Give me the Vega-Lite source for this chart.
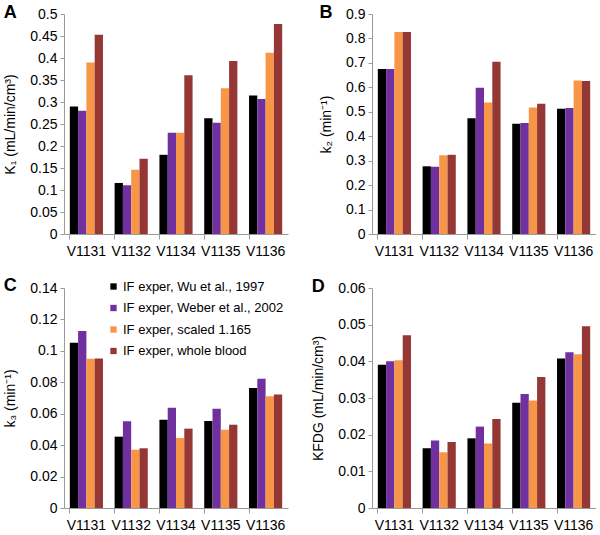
{
  "$schema": "https://vega.github.io/schema/vega-lite/v6.json",
  "padding": {"left": 3, "top": 4, "right": 0, "bottom": 0},
  "config": {
    "view": {"stroke": null},
    "font": "Liberation Sans",
    "axis": {"grid": false, "domainColor": "#9a9a9a", "tickColor": "#9a9a9a", "labelFontSize": 14, "labelColor": "#000000", "titleFontSize": 14, "titleFontWeight": "normal", "titleColor": "#000000", "labelFont": "Liberation Sans", "titleFont": "Liberation Sans"},
    "axisX": {"labelAngle": 0, "bandPosition": 0, "tickSize": 5, "labelPadding": 5, "title": null},
    "axisY": {"tickSize": 4, "labelPadding": 3, "format": ".2~f", "titlePadding": 12},
    "title": {"fontSize": 18, "fontWeight": "bold", "anchor": "start", "frame": "bounds", "offset": -15, "color": "#000000", "font": "Liberation Sans"},
    "legend": {"title": null, "symbolType": "square", "symbolSize": 40, "labelFontSize": 13, "labelFont": "Liberation Sans", "labelColor": "#000000", "rowPadding": 7.5, "labelOffset": 3, "padding": 0, "symbolStrokeWidth": 0, "labelLimit": 400}
  },
  "datasets": {
    "d": [
      {"p": "A", "s": "V1131", "m": "IF exper, Wu et al., 1997", "v": 0.29},
      {"p": "A", "s": "V1131", "m": "IF exper, Weber et al., 2002", "v": 0.28},
      {"p": "A", "s": "V1131", "m": "IF exper, scaled 1.165", "v": 0.39},
      {"p": "A", "s": "V1131", "m": "IF exper, whole blood", "v": 0.453},
      {"p": "A", "s": "V1132", "m": "IF exper, Wu et al., 1997", "v": 0.116},
      {"p": "A", "s": "V1132", "m": "IF exper, Weber et al., 2002", "v": 0.111},
      {"p": "A", "s": "V1132", "m": "IF exper, scaled 1.165", "v": 0.146},
      {"p": "A", "s": "V1132", "m": "IF exper, whole blood", "v": 0.171},
      {"p": "A", "s": "V1134", "m": "IF exper, Wu et al., 1997", "v": 0.18},
      {"p": "A", "s": "V1134", "m": "IF exper, Weber et al., 2002", "v": 0.23},
      {"p": "A", "s": "V1134", "m": "IF exper, scaled 1.165", "v": 0.23},
      {"p": "A", "s": "V1134", "m": "IF exper, whole blood", "v": 0.361},
      {"p": "A", "s": "V1135", "m": "IF exper, Wu et al., 1997", "v": 0.263},
      {"p": "A", "s": "V1135", "m": "IF exper, Weber et al., 2002", "v": 0.253},
      {"p": "A", "s": "V1135", "m": "IF exper, scaled 1.165", "v": 0.331},
      {"p": "A", "s": "V1135", "m": "IF exper, whole blood", "v": 0.393},
      {"p": "A", "s": "V1136", "m": "IF exper, Wu et al., 1997", "v": 0.315},
      {"p": "A", "s": "V1136", "m": "IF exper, Weber et al., 2002", "v": 0.307},
      {"p": "A", "s": "V1136", "m": "IF exper, scaled 1.165", "v": 0.412},
      {"p": "A", "s": "V1136", "m": "IF exper, whole blood", "v": 0.477},
      {"p": "B", "s": "V1131", "m": "IF exper, Wu et al., 1997", "v": 0.675},
      {"p": "B", "s": "V1131", "m": "IF exper, Weber et al., 2002", "v": 0.675},
      {"p": "B", "s": "V1131", "m": "IF exper, scaled 1.165", "v": 0.826},
      {"p": "B", "s": "V1131", "m": "IF exper, whole blood", "v": 0.826},
      {"p": "B", "s": "V1132", "m": "IF exper, Wu et al., 1997", "v": 0.277},
      {"p": "B", "s": "V1132", "m": "IF exper, Weber et al., 2002", "v": 0.275},
      {"p": "B", "s": "V1132", "m": "IF exper, scaled 1.165", "v": 0.322},
      {"p": "B", "s": "V1132", "m": "IF exper, whole blood", "v": 0.324},
      {"p": "B", "s": "V1134", "m": "IF exper, Wu et al., 1997", "v": 0.474},
      {"p": "B", "s": "V1134", "m": "IF exper, Weber et al., 2002", "v": 0.598},
      {"p": "B", "s": "V1134", "m": "IF exper, scaled 1.165", "v": 0.538},
      {"p": "B", "s": "V1134", "m": "IF exper, whole blood", "v": 0.705},
      {"p": "B", "s": "V1135", "m": "IF exper, Wu et al., 1997", "v": 0.451},
      {"p": "B", "s": "V1135", "m": "IF exper, Weber et al., 2002", "v": 0.454},
      {"p": "B", "s": "V1135", "m": "IF exper, scaled 1.165", "v": 0.518},
      {"p": "B", "s": "V1135", "m": "IF exper, whole blood", "v": 0.533},
      {"p": "B", "s": "V1136", "m": "IF exper, Wu et al., 1997", "v": 0.512},
      {"p": "B", "s": "V1136", "m": "IF exper, Weber et al., 2002", "v": 0.515},
      {"p": "B", "s": "V1136", "m": "IF exper, scaled 1.165", "v": 0.628},
      {"p": "B", "s": "V1136", "m": "IF exper, whole blood", "v": 0.626},
      {"p": "C", "s": "V1131", "m": "IF exper, Wu et al., 1997", "v": 0.1052},
      {"p": "C", "s": "V1131", "m": "IF exper, Weber et al., 2002", "v": 0.1126},
      {"p": "C", "s": "V1131", "m": "IF exper, scaled 1.165", "v": 0.095},
      {"p": "C", "s": "V1131", "m": "IF exper, whole blood", "v": 0.0952},
      {"p": "C", "s": "V1132", "m": "IF exper, Wu et al., 1997", "v": 0.0454},
      {"p": "C", "s": "V1132", "m": "IF exper, Weber et al., 2002", "v": 0.0552},
      {"p": "C", "s": "V1132", "m": "IF exper, scaled 1.165", "v": 0.0371},
      {"p": "C", "s": "V1132", "m": "IF exper, whole blood", "v": 0.038},
      {"p": "C", "s": "V1134", "m": "IF exper, Wu et al., 1997", "v": 0.0562},
      {"p": "C", "s": "V1134", "m": "IF exper, Weber et al., 2002", "v": 0.0638},
      {"p": "C", "s": "V1134", "m": "IF exper, scaled 1.165", "v": 0.0445},
      {"p": "C", "s": "V1134", "m": "IF exper, whole blood", "v": 0.0505},
      {"p": "C", "s": "V1135", "m": "IF exper, Wu et al., 1997", "v": 0.0554},
      {"p": "C", "s": "V1135", "m": "IF exper, Weber et al., 2002", "v": 0.0632},
      {"p": "C", "s": "V1135", "m": "IF exper, scaled 1.165", "v": 0.0498},
      {"p": "C", "s": "V1135", "m": "IF exper, whole blood", "v": 0.053},
      {"p": "C", "s": "V1136", "m": "IF exper, Wu et al., 1997", "v": 0.0764},
      {"p": "C", "s": "V1136", "m": "IF exper, Weber et al., 2002", "v": 0.0823},
      {"p": "C", "s": "V1136", "m": "IF exper, scaled 1.165", "v": 0.0711},
      {"p": "C", "s": "V1136", "m": "IF exper, whole blood", "v": 0.0723},
      {"p": "D", "s": "V1131", "m": "IF exper, Wu et al., 1997", "v": 0.0391},
      {"p": "D", "s": "V1131", "m": "IF exper, Weber et al., 2002", "v": 0.04},
      {"p": "D", "s": "V1131", "m": "IF exper, scaled 1.165", "v": 0.0403},
      {"p": "D", "s": "V1131", "m": "IF exper, whole blood", "v": 0.0471},
      {"p": "D", "s": "V1132", "m": "IF exper, Wu et al., 1997", "v": 0.0163},
      {"p": "D", "s": "V1132", "m": "IF exper, Weber et al., 2002", "v": 0.0184},
      {"p": "D", "s": "V1132", "m": "IF exper, scaled 1.165", "v": 0.0152},
      {"p": "D", "s": "V1132", "m": "IF exper, whole blood", "v": 0.018},
      {"p": "D", "s": "V1134", "m": "IF exper, Wu et al., 1997", "v": 0.019},
      {"p": "D", "s": "V1134", "m": "IF exper, Weber et al., 2002", "v": 0.0222},
      {"p": "D", "s": "V1134", "m": "IF exper, scaled 1.165", "v": 0.0176},
      {"p": "D", "s": "V1134", "m": "IF exper, whole blood", "v": 0.0243},
      {"p": "D", "s": "V1135", "m": "IF exper, Wu et al., 1997", "v": 0.0287},
      {"p": "D", "s": "V1135", "m": "IF exper, Weber et al., 2002", "v": 0.0311},
      {"p": "D", "s": "V1135", "m": "IF exper, scaled 1.165", "v": 0.0293},
      {"p": "D", "s": "V1135", "m": "IF exper, whole blood", "v": 0.0357},
      {"p": "D", "s": "V1136", "m": "IF exper, Wu et al., 1997", "v": 0.0408},
      {"p": "D", "s": "V1136", "m": "IF exper, Weber et al., 2002", "v": 0.0425},
      {"p": "D", "s": "V1136", "m": "IF exper, scaled 1.165", "v": 0.0419},
      {"p": "D", "s": "V1136", "m": "IF exper, whole blood", "v": 0.0496}
    ]
  },
  "columns": 2,
  "spacing": {"row": 19, "column": 23},
  "resolve": {"scale": {"x": "independent", "y": "independent", "color": "independent", "xOffset": "independent"}, "legend": {"color": "independent"}},
  "concat": [
    {
      "width": 224, "height": 220,
      "title": {"text": "A"},
      "data": {"name": "d"},
      "transform": [{"filter": "datum.p == 'A'"}],
      "mark": {"type": "bar"},
      "encoding": {
        "x": {"field": "s", "type": "nominal", "scale": {"paddingInner": 0.26, "paddingOuter": 0.13}},
        "xOffset": {"field": "m", "type": "nominal", "sort": null},
        "y": {"field": "v", "type": "quantitative", "scale": {"domain": [0, 0.5], "nice": false}, "axis": {"title": "K₁ (mL/min/cm³)", "values": [0, 0.05, 0.1, 0.15, 0.2, 0.25, 0.3, 0.35, 0.4, 0.45, 0.5]}},
        "color": {"field": "m", "type": "nominal", "sort": null, "scale": {"domain": ["IF exper, Wu et al., 1997", "IF exper, Weber et al., 2002", "IF exper, scaled 1.165", "IF exper, whole blood"], "range": ["#000000", "#7030A0", "#F79646", "#953735"]}, "legend": null}
      }
    },
    {
      "width": 224, "height": 220,
      "title": {"text": "B"},
      "data": {"name": "d"},
      "transform": [{"filter": "datum.p == 'B'"}],
      "mark": {"type": "bar"},
      "encoding": {
        "x": {"field": "s", "type": "nominal", "scale": {"paddingInner": 0.26, "paddingOuter": 0.13}},
        "xOffset": {"field": "m", "type": "nominal", "sort": null},
        "y": {"field": "v", "type": "quantitative", "scale": {"domain": [0, 0.9], "nice": false}, "axis": {"title": "k₂ (min⁻¹)", "values": [0, 0.1, 0.2, 0.3, 0.4, 0.5, 0.6, 0.7, 0.8, 0.9]}},
        "color": {"field": "m", "type": "nominal", "sort": null, "scale": {"domain": ["IF exper, Wu et al., 1997", "IF exper, Weber et al., 2002", "IF exper, scaled 1.165", "IF exper, whole blood"], "range": ["#000000", "#7030A0", "#F79646", "#953735"]}, "legend": null}
      }
    },
    {
      "width": 224, "height": 220,
      "title": {"text": "C"},
      "data": {"name": "d"},
      "transform": [{"filter": "datum.p == 'C'"}],
      "mark": {"type": "bar"},
      "encoding": {
        "x": {"field": "s", "type": "nominal", "scale": {"paddingInner": 0.26, "paddingOuter": 0.13}},
        "xOffset": {"field": "m", "type": "nominal", "sort": null},
        "y": {"field": "v", "type": "quantitative", "scale": {"domain": [0, 0.14], "nice": false}, "axis": {"title": "k₃ (min⁻¹)", "values": [0, 0.02, 0.04, 0.06, 0.08, 0.1, 0.12, 0.14]}},
        "color": {"field": "m", "type": "nominal", "sort": null, "scale": {"domain": ["IF exper, Wu et al., 1997", "IF exper, Weber et al., 2002", "IF exper, scaled 1.165", "IF exper, whole blood"], "range": ["#000000", "#7030A0", "#F79646", "#953735"]}, "legend": {"orient": "none", "legendX": 43, "legendY": -8}}
      }
    },
    {
      "width": 224, "height": 220,
      "title": {"text": "D"},
      "data": {"name": "d"},
      "transform": [{"filter": "datum.p == 'D'"}],
      "mark": {"type": "bar"},
      "encoding": {
        "x": {"field": "s", "type": "nominal", "scale": {"paddingInner": 0.26, "paddingOuter": 0.13}},
        "xOffset": {"field": "m", "type": "nominal", "sort": null},
        "y": {"field": "v", "type": "quantitative", "scale": {"domain": [0, 0.06], "nice": false}, "axis": {"title": "KFDG (mL/min/cm³)", "values": [0, 0.01, 0.02, 0.03, 0.04, 0.05, 0.06]}},
        "color": {"field": "m", "type": "nominal", "sort": null, "scale": {"domain": ["IF exper, Wu et al., 1997", "IF exper, Weber et al., 2002", "IF exper, scaled 1.165", "IF exper, whole blood"], "range": ["#000000", "#7030A0", "#F79646", "#953735"]}, "legend": null}
      }
    }
  ]
}
